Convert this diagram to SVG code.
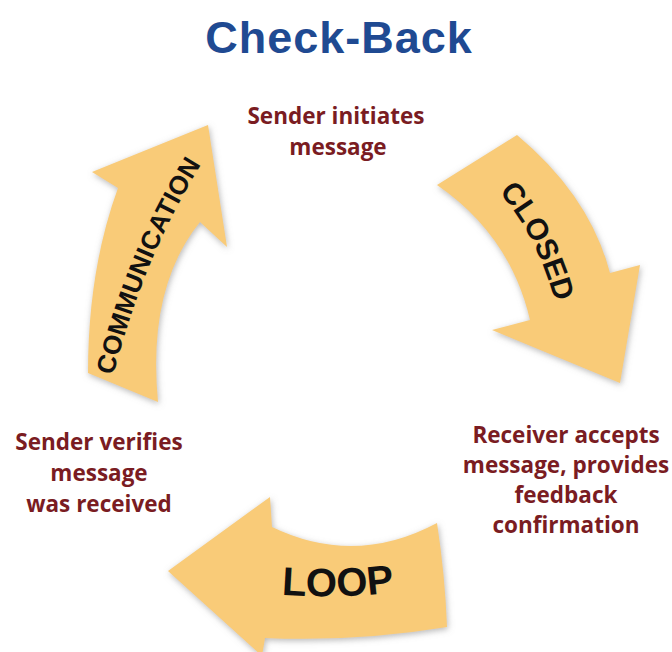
<svg xmlns="http://www.w3.org/2000/svg" width="672" height="652" viewBox="0 0 672 652">
<defs>
<filter id="sh" x="-20%" y="-20%" width="140%" height="140%">
<feGaussianBlur in="SourceAlpha" stdDeviation="3"/>
<feOffset dx="1" dy="2" result="b"/>
<feFlood flood-color="#888" flood-opacity="0.6"/>
<feComposite in2="b" operator="in"/>
<feMerge><feMergeNode/><feMergeNode in="SourceGraphic"/></feMerge>
</filter>
<path id="pComm" d="M 113,377 Q 143,258 202,163"/>
<path id="pClosed" d="M 497,190 Q 537,234 556,305"/>
<path id="pLoop" d="M 274,594 Q 338,600 402,591"/>
</defs>
<style>
.arrow{fill:#F9CB78;filter:url(#sh)}
.atxt{font-family:"Liberation Sans",Arial,sans-serif;font-weight:bold;fill:#111}
.lbl{font-family:"Open Sans","Liberation Sans",sans-serif;font-weight:bold;font-size:22.5px;fill:#7A1C22;text-anchor:middle}
.title{font-family:"Liberation Sans",Arial,sans-serif;font-weight:bold;font-size:45px;fill:#1F4A92;text-anchor:middle}
</style>
<rect width="672" height="652" fill="#fff"/>
<text class="title" x="339" y="53" letter-spacing="1">Check-Back</text>
<g id="connectors">
<g id="arrow-communication">
<path class="arrow" d="M 88,373 Q 88,270 118,188 L 92,172 L 208,125 L 227,247 L 200,222 Q 147,288 158,402 Z"/>
<text class="atxt" font-size="26"><textPath href="#pComm" startOffset="50%" text-anchor="middle" textLength="230" lengthAdjust="spacing">COMMUNICATION</textPath></text>
</g>
<g id="arrow-closed">
<path class="arrow" d="M 437,185 L 517,135 Q 590,196 610,273 L 640,265 L 620,383 L 492,330 L 530,320 Q 510,235 437,185 Z"/>
<text class="atxt" font-size="30"><textPath href="#pClosed" startOffset="50%" text-anchor="middle">CLOSED</textPath></text>
</g>
<g id="arrow-loop">
<path class="arrow" d="M 437,523 Q 355,567 272,527 L 270,497 L 168,571 L 262,656 L 265,638 Q 356,642 447,627 Q 445,575 437,523 Z"/>
<text class="atxt" font-size="40"><textPath href="#pLoop" startOffset="50%" text-anchor="middle">LOOP</textPath></text>
</g>
</g>
<g id="node-sender-initiates">
<text class="lbl" x="336" y="124">Sender initiates</text>
<text class="lbl" x="338" y="155">message</text>
</g>
<g id="node-receiver-accepts">
<text class="lbl" x="566" y="443">Receiver accepts</text>
<text class="lbl" x="566" y="473">message, provides</text>
<text class="lbl" x="566" y="503">feedback</text>
<text class="lbl" x="566" y="533">confirmation</text>
</g>
<g id="node-sender-verifies">
<text class="lbl" x="99" y="450">Sender verifies</text>
<text class="lbl" x="99" y="481">message</text>
<text class="lbl" x="99" y="512">was received</text>
</g>
</svg>
